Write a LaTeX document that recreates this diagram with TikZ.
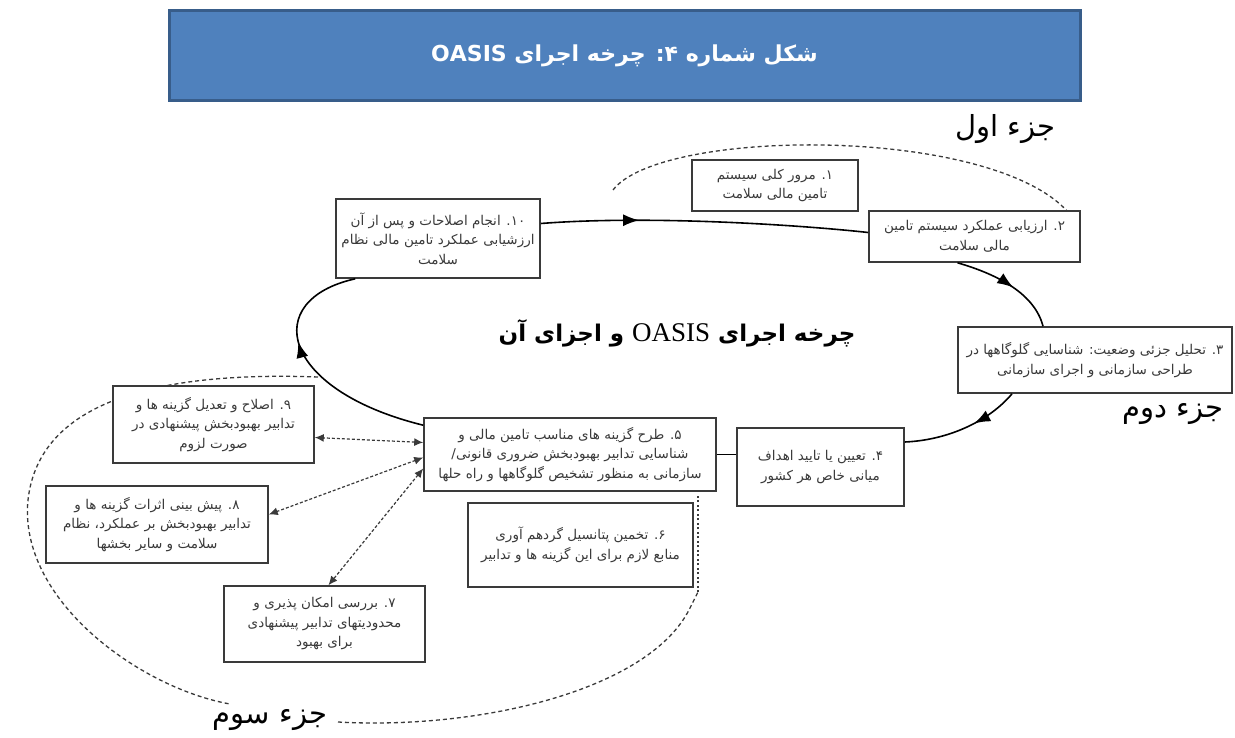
\documentclass[tikz,border=0pt]{standalone}
\usepackage{fontspec}
\TeXXeTstate=1
\newfontfamily\fa[Script=Arabic]{DejaVu Sans}
\newfontfamily\ser{Liberation Serif}
\usetikzlibrary{arrows.meta,decorations.markings}
\definecolor{titleblue}{HTML}{4F81BD}
\definecolor{titleedge}{HTML}{385D8A}
\definecolor{ink}{HTML}{3A3A3A}
\newcommand\rl[1]{\beginR #1\endR}
\begin{document}
\begin{tikzpicture}[x=1pt,y=-1pt,
  box/.style={draw=ink, line width=1.6pt, fill=white, text=ink, align=center,
    inner sep=2pt, font=\fa\fontsize{13.5}{19.5}\selectfont},
  cyc/.style={draw=black, line width=1.6pt},
  midarrow/.style={postaction={decorate,decoration={markings,
    mark=at position #1 with {\arrow{Latex[length=16pt,width=12pt]}}}}},
  dblarrow/.style={dash pattern=on 3pt off 2pt, line width=1.2pt, draw=ink,
    {Latex[length=9pt,width=8pt]}-{Latex[length=9pt,width=8pt]}},
  part/.style={dash pattern=on 4pt off 3pt, line width=1.3pt, draw=ink},
  partlabel/.style={font=\fa\fontsize{29}{32}\selectfont, text=black},
  ]
\useasboundingbox (0,0) rectangle (1235,738);
\fill[white] (0,0) rectangle (1235,738);

% title bar
\node[draw=titleedge, line width=3pt, fill=titleblue, minimum width=911, minimum height=90,
  text=white, font=\fa\bfseries\fontsize{22}{26}\selectfont] (title) at (624.5,56)
  {\rl{شکل شماره ۴: چرخه اجرای OASIS}};

% central title
\node[font=\fa\bfseries\fontsize{23}{28}\selectfont] (ctitle) at (677,333)
  {\rl{چرخه اجرای {\ser\mdseries\fontsize{27}{28}\selectfont OASIS} و اجزای آن}};

% dashed part outlines
\coordinate (p1a) at (613,190);
\coordinate (p1b) at (1068,212);
\draw[part] (p1a) .. controls (660,128) and (990,125) .. (p1b);

\coordinate (p3a) at (318,377);
\coordinate (p3b) at (28,500);
\coordinate (p3c) at (230,704);
\coordinate (p3d) at (338,722);
\coordinate (p3e) at (690,608);
\coordinate (p3f) at (698,592);
\coordinate (p3g) at (698,496);
\draw[part] (p3a) .. controls (180,372) and (40,392) .. (p3b)
  .. controls (18,600) and (140,688) .. (p3c);
\draw[part] (p3d) .. controls (480,730) and (650,690) .. (p3e) -- (p3f);
\draw[dash pattern=on 2pt off 2.5pt, line width=1.2pt, draw=ink] (p3f) -- (p3g);

% boxes
\node[box, minimum width=166, minimum height=51] (b1) at (775,185.5)
  {\rl{۱. مرور کلی سیستم}\\\rl{تامین مالی سلامت}};
\node[box, minimum width=211, minimum height=51] (b2) at (974.5,236.5)
  {\rl{۲. ارزیابی عملکرد سیستم تامین}\\\rl{مالی سلامت}};
\node[box, minimum width=274, minimum height=66] (b3) at (1095,360)
  {\rl{۳. تحلیل جزئی وضعیت: شناسایی گلوگاهها در}\\\rl{طراحی سازمانی و اجرای سازمانی}};
\node[box, minimum width=167, minimum height=78] (b4) at (820.5,467)
  {\rl{۴. تعیین یا تایید اهداف}\\\rl{میانی خاص هر کشور}};
\node[box, minimum width=292, minimum height=73] (b5) at (570,454.5)
  {\rl{۵. طرح گزینه های مناسب تامین مالی و}\\\rl{شناسایی تدابیر بهبودبخش ضروری قانونی/}\\\rl{سازمانی به منظور تشخیص گلوگاهها و راه حلها}};
\node[box, minimum width=225, minimum height=84] (b6) at (580.5,545)
  {\rl{۶. تخمین پتانسیل گردهم آوری}\\\rl{منابع لازم برای این گزینه ها و تدابیر}};
\node[box, minimum width=201, minimum height=76] (b7) at (324.5,624)
  {\rl{۷. بررسی امکان پذیری و}\\\rl{محدودیتهای تدابیر پیشنهادی}\\\rl{برای بهبود}};
\node[box, minimum width=222, minimum height=77] (b8) at (157,524.5)
  {\rl{۸. پیش بینی اثرات گزینه ها و}\\\rl{تدابیر بهبودبخش بر عملکرد، نظام}\\\rl{سلامت و سایر بخشها}};
\node[box, minimum width=201, minimum height=77] (b9) at (213.5,424.5)
  {\rl{۹. اصلاح و تعدیل گزینه ها و}\\\rl{تدابیر بهبودبخش پیشنهادی در}\\\rl{صورت لزوم}};
\node[box, minimum width=204, minimum height=79] (b10) at (438,238.5)
  {\rl{۱۰. انجام اصلاحات و پس از آن}\\\rl{ارزشیابی عملکرد تامین مالی نظام}\\\rl{سلامت}};

% part labels
\node[partlabel] (p1) at (1005,129) {\rl{جزء اول}};
\node[partlabel] (p2) at (1173,414) {\rl{جزء دوم}};
\node[partlabel] (p3) at (270,720) {\rl{جزء سوم}};

% main cycle
\draw[cyc, midarrow=0.3] ([yshift=15]b10.east) .. controls (650,215) and (800,225) .. ([yshift=4]b2.west);
\draw[cyc, midarrow=0.55] ([xshift=-17]b2.south) .. controls (1000,275) and (1035,295) .. ([xshift=-52]b3.north);
\draw[cyc, midarrow=0.4] ([xshift=-83]b3.south) .. controls (990,420) and (950,440) .. ([yshift=25]b4.east);
\draw[cyc] (b4.west |- b5.east) -- (b5.east);
\draw[cyc, midarrow=0.62] ([yshift=-8]b5.north west) .. controls (280,390) and (260,300) .. ([xshift=20]b10.south west);

% dashed double arrows
\draw[dblarrow] ([yshift=12]b5.west) -- ([yshift=-13]b9.east);
\draw[dblarrow] ([yshift=-3]b5.west) -- ([yshift=10]b8.east);
\draw[dblarrow] ([yshift=-14]b5.west) -- ([xshift=4]b7.north);
\end{tikzpicture}
\end{document}
